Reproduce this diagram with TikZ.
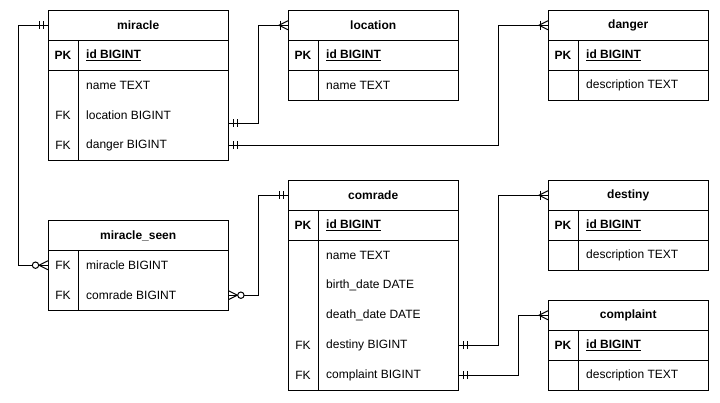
\documentclass[tikz,border=0pt]{standalone}
\usepackage{fontspec}
\setmainfont{Liberation Sans}

\tikzset{
  tbl/.style={line width=1pt, draw=black},
  conn/.style={line width=1pt, draw=black},
  mk/.style={line width=1pt, draw=black},
  hdrcell/.style={inner sep=0pt, minimum height=30pt},
  hdrtxt/.style={inner sep=0pt, font=\fontsize{12}{14}\selectfont\bfseries},
  rowcell/.style={inner sep=0pt, minimum height=30pt},
  txt/.style={inner sep=0pt, font=\fontsize{12}{14}\selectfont},
}

% An entity table: #1 name, #2 left, #3 top, #4 width, #5 title, #6 key/field rows
\newcommand\ertable[6]{%
  \node[hdrcell, minimum width=#4pt, anchor=north west] (#1) at (#2,#3) {};
  \node[hdrtxt] (#1-title) at ([yshift=-0.5pt]#1.center) {#5};
  \foreach \k/\f [count=\i] in {#6} {
    \node[rowcell, minimum width=#4pt, anchor=north west] (#1-r\i) at (#2,#3+30*\i) {};
    \node[txt] (#1-k\i) at ([xshift=15pt,yshift=-0.5pt]#1-r\i.west) {\k};
    \node[txt, anchor=west] (#1-f\i) at ([xshift=38pt,yshift=-0.5pt]#1-r\i.west) {\f};
    \coordinate (#1-sw) at (#2,#3+30+30*\i);
    \coordinate (#1-se) at (#2+#4,#3+30+30*\i);
  }
  \draw[tbl] (#1.north west) rectangle (#1-se);
  \draw[tbl] (#1.south west) -- (#1.south east);
  \draw[tbl] ([xshift=30pt]#1-r1.north west) -- ([xshift=30pt]#1-sw);
}
% Line under the primary key row
\newcommand\pksep[1]{\draw[tbl] (#1-r1.south west) -- (#1-r1.south east);}

% Relationship ends; #2 is +1 when the line leaves to the right, -1 to the left
\newcommand\mandone[2]{%
  \draw[mk] ([xshift=#2*5pt]#1) ++(0pt,4pt) -- ++(0pt,-8pt);
  \draw[mk] ([xshift=#2*9pt]#1) ++(0pt,4pt) -- ++(0pt,-8pt);
}
\newcommand\onemany[2]{%
  \draw[mk] ([yshift=4.5pt]#1) -- ([xshift=#2*9pt]#1) -- ([yshift=-4.5pt]#1);
  \draw[mk] ([xshift=#2*8pt]#1) ++(0pt,4.5pt) -- ++(0pt,-9pt);
}
\newcommand\zeromany[2]{%
  \draw[mk] ([yshift=4.5pt]#1) -- ([xshift=#2*9pt]#1) -- ([yshift=-4.5pt]#1);
  \draw[mk, fill=white] ([xshift=#2*12.5pt]#1) circle[radius=3.2pt];
}

\begin{document}
\begin{tikzpicture}[x=1pt, y=-1pt]
  \fill[white] (0,0) rectangle (720,402);
  \useasboundingbox (0,0) rectangle (720,402);

  \ertable{miracle}{48}{10}{180}{miracle}{\textbf{PK}/\textbf{\underline{id BIGINT}}, /name TEXT, FK/location BIGINT, FK/danger BIGINT}
  \pksep{miracle}
  \ertable{location}{288}{10}{170}{location}{\textbf{PK}/\textbf{\underline{id BIGINT}}, /name TEXT}
  \pksep{location}
  \ertable{danger}{548}{10}{160}{danger}{\textbf{PK}/\textbf{\underline{id BIGINT}}, /description TEXT}
  \pksep{danger}
  \ertable{seen}{48}{220}{180}{miracle\_seen}{FK/miracle BIGINT, FK/comrade BIGINT}
  \ertable{comrade}{288}{180}{170}{comrade}{\textbf{PK}/\textbf{\underline{id BIGINT}}, /name TEXT, /birth\_date DATE, /death\_date DATE, FK/destiny BIGINT, FK/complaint BIGINT}
  \pksep{comrade}
  \ertable{destiny}{548}{180}{160}{destiny}{\textbf{PK}/\textbf{\underline{id BIGINT}}, /description TEXT}
  \pksep{destiny}
  \ertable{complaint}{548}{300}{160}{complaint}{\textbf{PK}/\textbf{\underline{id BIGINT}}, /description TEXT}
  \pksep{complaint}

  % miracle.location -> location
  \coordinate (locfk) at ([yshift=-8pt]miracle-r3.east);
  \draw[conn] (locfk) -- ++(30pt,0pt) |- (location.west);
  \mandone{locfk}{1}
  \onemany{location.west}{-1}

  % miracle.danger -> danger
  \draw[conn] (miracle-r4.east) -- ++(270pt,0pt) |- (danger.west);
  \mandone{miracle-r4.east}{1}
  \onemany{danger.west}{-1}

  % miracle -> miracle_seen.miracle
  \draw[conn] (miracle.west) -- ++(-30pt,0pt) |- (seen-r1.west);
  \mandone{miracle.west}{-1}
  \zeromany{seen-r1.west}{-1}

  % comrade -> miracle_seen.comrade
  \draw[conn] (comrade.west) -- ++(-30pt,0pt) |- (seen-r2.east);
  \mandone{comrade.west}{-1}
  \zeromany{seen-r2.east}{1}

  % comrade.destiny -> destiny
  \draw[conn] (comrade-r5.east) -- ++(40pt,0pt) |- (destiny.west);
  \mandone{comrade-r5.east}{1}
  \onemany{destiny.west}{-1}

  % comrade.complaint -> complaint
  \draw[conn] (comrade-r6.east) -- ++(60pt,0pt) |- (complaint.west);
  \mandone{comrade-r6.east}{1}
  \onemany{complaint.west}{-1}
\end{tikzpicture}
\end{document}
